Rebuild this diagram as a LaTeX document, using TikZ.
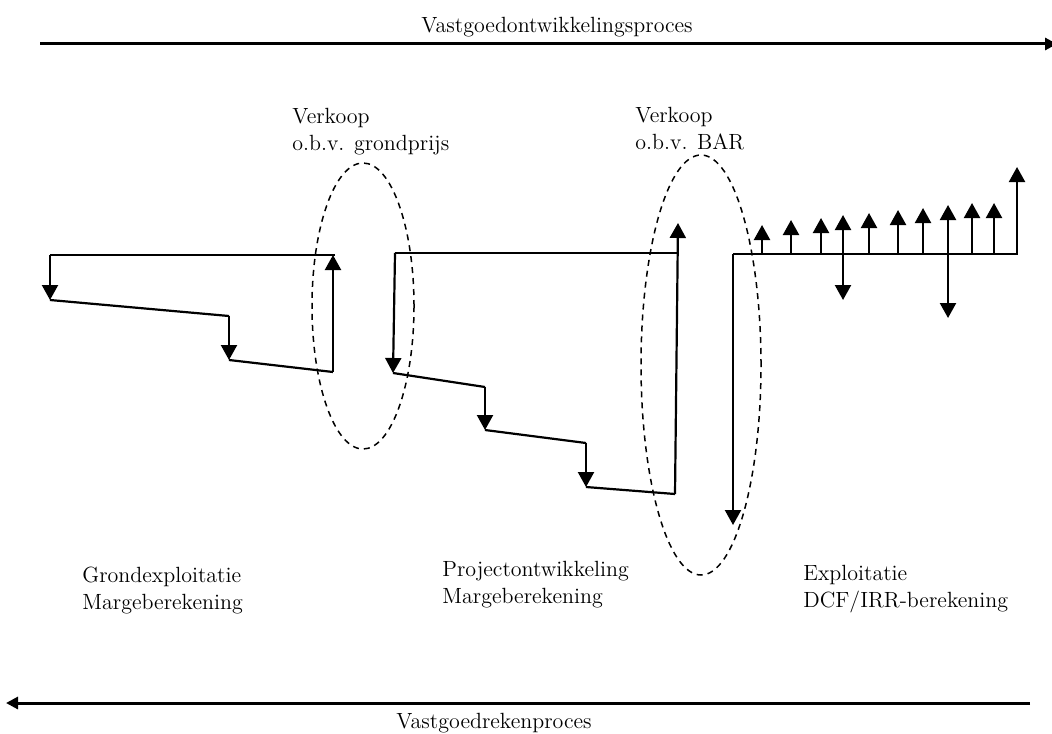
\documentclass[tikz,border=0pt]{standalone}
\usetikzlibrary{arrows.meta,shapes.geometric}
\begin{document}
\begin{tikzpicture}[x=0.5pt,y=-0.5pt,
  flow/.style={line width=1.1pt},
  cf/.style={line width=1.1pt,-{Triangle[length=7.5pt,width=8pt]}},
  zone/.style={draw, ellipse, dashed, line width=0.75pt, dash pattern=on 3pt off 2.5pt, inner sep=0pt},
  lbl/.style={font=\fontsize{11}{13.5}\selectfont, inner sep=0pt, align=left, anchor=base west},
  proc/.style={line width=1.5pt,-{Triangle[length=6pt,width=6pt]}}]
\useasboundingbox (0,0) rectangle (1052,733);

% process arrows
\coordinate (p1) at (40,44);
\coordinate (p2) at (1057,44);
\draw[proc] (p1) -- (p2);
\coordinate (q1) at (1030,703);
\coordinate (q2) at (6,703);
\draw[proc] (q1) -- (q2);
\node[lbl, anchor=base] (t1) at (557,33) {Vastgoedontwikkelingsproces};
\node[lbl, anchor=base] (t2) at (494,728) {Vastgoedrekenproces};

% grondexploitatie
\coordinate (a1) at (50,255);
\coordinate (a2) at (50,300);
\coordinate (a3) at (229,316);
\coordinate (a4) at (229,360);
\coordinate (a5) at (333,372);
\coordinate (a6) at (333,255);
\coordinate (a7) at (335,255);
\draw[flow] (a7) -- (a1);
\draw[cf] (a1) -- (a2);
\draw[flow] (a2) -- (a3);
\draw[cf] (a3) -- (a4);
\draw[flow] (a4) -- (a5);
\draw[cf] (a5) -- (a6);

% projectontwikkeling
\coordinate (b1) at (395,253);
\coordinate (b2) at (393,373);
\coordinate (b3) at (485,387);
\coordinate (b4) at (485,430);
\coordinate (b5) at (586,443);
\coordinate (b6) at (586,487);
\coordinate (b7) at (675,494);
\coordinate (b8) at (678,223);
\coordinate (b9) at (678,253);
\draw[flow] (b1) -- (b9);
\draw[cf] (b1) -- (b2);
\draw[flow] (b2) -- (b3);
\draw[cf] (b3) -- (b4);
\draw[flow] (b4) -- (b5);
\draw[cf] (b5) -- (b6);
\draw[flow] (b6) -- (b7);
\draw[cf] (b7) -- (b8);

% exploitatie
\coordinate (c0) at (733,254);
\coordinate (c1) at (733,525);
\coordinate (c2) at (1018,254);
\draw[flow] (c0) -- (c2);
\draw[cf] (c0) -- (c1);
\foreach \i/\x/\t in {1/762/225,2/791/220,3/821/218,4/843/215,5/869/213,6/898/210,7/923/208,8/948/205,9/972/203,10/994/203,11/1017/167}{
  \coordinate (u\i) at (\x,254);
  \coordinate (ut\i) at (\x,\t);
  \draw[cf] (u\i) -- (ut\i);
}
\coordinate (d1) at (843,300);
\coordinate (d2) at (948,318);
\draw[cf] (u4) -- (d1);
\draw[cf] (u8) -- (d2);

% sale zones
\node[zone, minimum width=51pt, minimum height=143pt] (e1) at (363,306) {};
\node[zone, minimum width=60pt, minimum height=210pt] (e2) at (701,365) {};

% labels (anchor = baseline of last line)
\node[lbl] (v1) at (292,150) {Verkoop\\o.b.v. grondprijs};
\node[lbl] (v2) at (635,149) {Verkoop\\o.b.v. BAR};
\node[lbl] (g) at (82,609) {Grondexploitatie\\Margeberekening};
\node[lbl] (p) at (442,603) {Projectontwikkeling\\Margeberekening};
\node[lbl] (e) at (803,607) {Exploitatie\\DCF/IRR-berekening};
\end{tikzpicture}
\end{document}
